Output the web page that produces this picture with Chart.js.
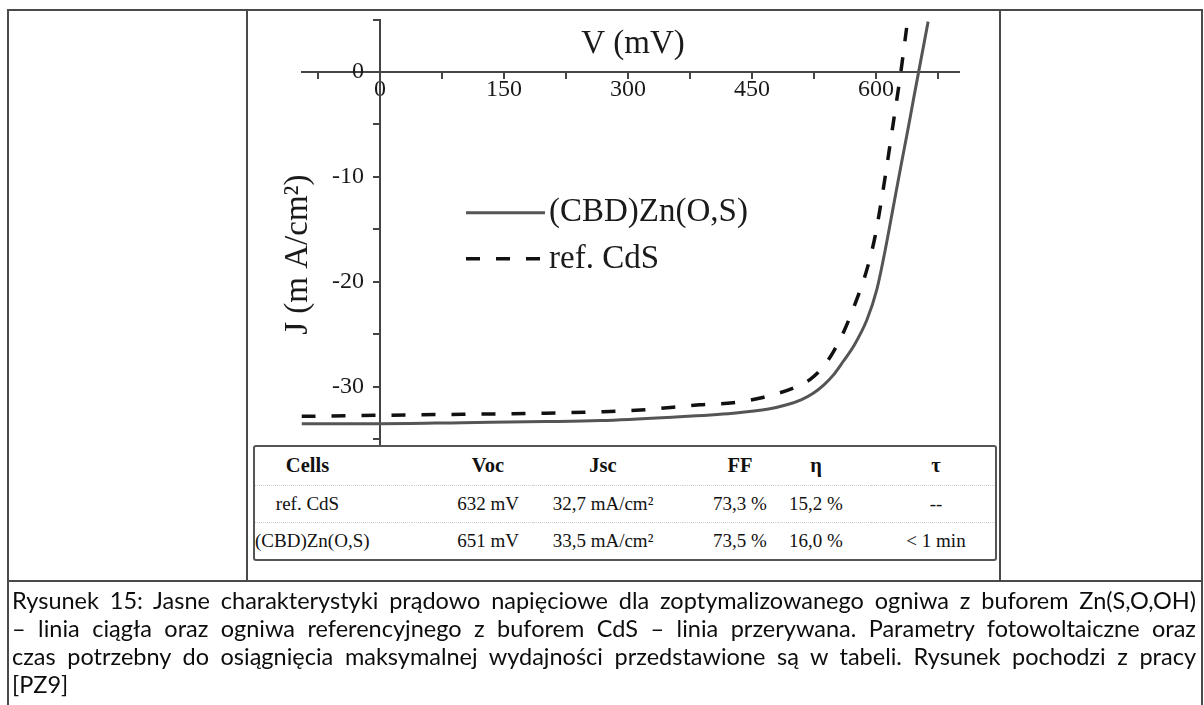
<!DOCTYPE html>
<html>
<head>
<meta charset="utf-8">
<script src="https://cdn.jsdelivr.net/npm/chart.js@4.4.1/dist/chart.umd.min.js"></script>
<style>
html, body { margin: 0; padding: 0; background: #fff; }
body { width: 1204px; height: 705px; position: relative; overflow: hidden; }
#wrap { position: absolute; left: 0; top: 0; width: 1204px; height: 705px; }
.rule { position: absolute; background: #4a4a4a; }
#results {
  position: absolute; left: 253px; top: 445px; width: 744px; height: 116px;
  border: 2px solid #555; border-radius: 3px; background: #fff;
  border-collapse: separate; border-spacing: 0; table-layout: fixed;
  font-family: "Liberation Serif", serif; font-size: 19px; color: #111;
}
#results td, #results th { text-align: center; padding: 0; white-space: nowrap; border-bottom: 1px dotted #cfcfcf; }
#results tr:last-child td { border-bottom: none; }
#results th { font-weight: bold; font-size: 20.5px; }
#caption {
  position: absolute; left: 12px; top: 586px; width: 1184px;
  font-family: Lato, "Noto Sans", sans-serif; font-size: 23.5px; line-height: 28px; color: #0d0d0d;
}
#caption div { white-space: nowrap; text-align: justify; text-align-last: justify; transform-origin: 0 50%; }
#caption div.last { text-align-last: left; }
</style>
</head>
<body>
<div id="wrap"><canvas id="iv-chart" width="1204" height="705"></canvas></div>

<div class="rule" style="left:7px;top:9px;width:1196px;height:2px"></div>
<div class="rule" style="left:7px;top:9px;width:2px;height:700px"></div>
<div class="rule" style="left:1201px;top:9px;width:2px;height:700px"></div>
<div class="rule" style="left:246px;top:9px;width:2px;height:572px"></div>
<div class="rule" style="left:999px;top:9px;width:2px;height:572px"></div>
<div class="rule" style="left:7px;top:580px;width:1196px;height:2px"></div>

<table id="results"></table>
<div id="caption"></div>

<script>
// J-V curves (V in mV, J in mA/cm2)
const voltZn = [-95, 0, 100, 200, 266, 347, 427, 470, 492, 510, 524, 537, 548, 560, 573, 589, 601, 611, 621, 630, 639, 646, 652, 658, 663];
const currZn = [-33.5, -33.5, -33.4, -33.3, -33.2, -32.9, -32.5, -32.1, -31.7, -31.2, -30.6, -29.8, -28.9, -27.6, -26.1, -23.6, -20.7, -17.0, -12.8, -9.0, -5.3, -2.3, 0.2, 2.7, 4.8];

const voltCdS = [-95, 0, 100, 200, 270, 315, 387, 427, 463, 500, 520, 536, 548, 560, 576, 589, 599, 607, 613, 620, 625, 630, 637];
const currCdS = [-32.8, -32.7, -32.6, -32.5, -32.35, -32.2, -31.7, -31.5, -31.0, -30.1, -29.3, -28.1, -26.7, -24.9, -21.8, -18.8, -15.6, -12.0, -9.0, -5.3, -2.7, 0, 4.2];

const seriesNames = ["(CBD)Zn(O,S)", "ref. CdS"];

// table under the plot
const tableHead = ["Cells", "Voc", "Jsc", "FF", "η", "τ"];
const cellNames = ["ref. CdS", "(CBD)Zn(O,S)"];
const vocValues = ["632 mV", "651 mV"];
const jscValues = ["32,7 mA/cm²", "33,5 mA/cm²"];
const ffValues = ["73,3 %", "73,5 %"];
const etaValues = ["15,2 %", "16,0 %"];
const tauValues = ["--", "< 1 min"];

const captionLines = [
  "Rysunek 15: Jasne charakterystyki prądowo napięciowe dla zoptymalizowanego ogniwa z buforem Zn(S,O,OH)",
  "– linia ciągła oraz ogniwa referencyjnego z buforem  CdS – linia przerywana. Parametry fotowoltaiczne oraz",
  "czas potrzebny do osiągnięcia maksymalnej wydajności przedstawione są w tabeli. Rysunek pochodzi z pracy",
  "[PZ9]"
];

const serif = '"Liberation Serif", "Times New Roman", serif';

// Titles, y tick labels and legend, placed from the scales
const labelPlugin = {
  id: 'labelPlugin',
  afterDraw(chart) {
    const { ctx, scales: { x, y } } = chart;
    ctx.save();
    ctx.fillStyle = '#1a1a1a';

    // y tick labels sit left of the axis line
    ctx.font = '24px ' + serif;
    ctx.textAlign = 'right';
    ctx.textBaseline = 'middle';
    const axisX = x.getPixelForValue(0);
    y.ticks.forEach(t => {
      if (t.value % 10 === 0) ctx.fillText(String(t.value), axisX - 16, y.getPixelForValue(t.value));
    });

    ctx.font = '33px ' + serif;
    ctx.textAlign = 'center';
    ctx.textBaseline = 'alphabetic';
    ctx.fillText('V (mV)', x.getPixelForValue(306), y.getPixelForValue(1.8));

    ctx.save();
    ctx.translate(x.getPixelForValue(-99), y.getPixelForValue(-17.4));
    ctx.rotate(-Math.PI / 2);
    ctx.textBaseline = 'middle';
    ctx.fillText('J (m A/cm²)', 0, 0);
    ctx.restore();

    const rowY = [-13.4, -17.8];
    chart.data.datasets.forEach((ds, i) => {
      const ly = y.getPixelForValue(rowY[i]);
      ctx.save();
      ctx.strokeStyle = ds.borderColor;
      ctx.lineWidth = ds.borderWidth;
      ctx.setLineDash(ds.borderDash || []);
      ctx.beginPath();
      ctx.moveTo(466, ly);
      ctx.lineTo(545, ly);
      ctx.stroke();
      ctx.restore();
      ctx.textAlign = 'left';
      ctx.textBaseline = 'middle';
      ctx.fillText(ds.label, 549, ly);
    });
    ctx.restore();
  }
};

const toPoints = (xs, ys) => xs.map((v, i) => ({ x: v, y: ys[i] }));

const ivChart = new Chart(document.getElementById('iv-chart'), {
  type: 'scatter',
  data: {
    datasets: [{
      label: seriesNames[0],
      data: toPoints(voltZn, currZn),
      showLine: true,
      borderColor: '#555',
      borderWidth: 3,
      pointRadius: 0,
      cubicInterpolationMode: 'monotone'
    }, {
      label: seriesNames[1],
      data: toPoints(voltCdS, currCdS),
      showLine: true,
      borderColor: '#111',
      borderWidth: 3.5,
      borderDash: [14, 16],
      pointRadius: 0,
      cubicInterpolationMode: 'monotone'
    }]
  },
  options: {
    responsive: false,
    animation: false,
    devicePixelRatio: 1,
    layout: { padding: { left: 301.5, right: 245.3, top: 19.5, bottom: 258.2 } },
    plugins: { legend: { display: false }, tooltip: { enabled: false } },
    scales: {
      x: {
        type: 'linear',
        min: -95,
        max: 700,
        position: { y: 0 },
        afterFit: s => { s.height = 0; },
        grid: { drawOnChartArea: false, drawTicks: true, tickLength: 6, color: '#444', lineWidth: 2 },
        border: { display: true, color: '#444', width: 2 },
        ticks: {
          stepSize: 75,
          includeBounds: false,
          autoSkip: false,
          maxRotation: 0,
          padding: -3,
          color: '#1a1a1a',
          font: { family: serif, size: 24 },
          callback: v => (v % 150 === 0 ? String(v) : '')
        }
      },
      y: {
        type: 'linear',
        min: -35.7,
        max: 5,
        position: { x: 0 },
        afterFit: s => { s.width = 0; },
        grid: { drawOnChartArea: false, drawTicks: true, tickLength: 6, color: '#444', lineWidth: 2 },
        border: { display: true, color: '#444', width: 2 },
        ticks: { stepSize: 5, includeBounds: false, autoSkip: false, display: false }
      }
    }
  },
  plugins: [labelPlugin]
});

// Results table: column widths and side padding put each column's text where the figure has it
const colWidths = [157, 121, 150, 95, 93, 124];
const colPad = [[0, 52], [31, 0], [0, 10], [19, 0], [0, 17], [6, 0]];
const table = document.getElementById('results');
const columns = [cellNames, vocValues, jscValues, ffValues, etaValues, tauValues];
const cellStyle = c => `style="padding-left:${colPad[c][0]}px;padding-right:${colPad[c][1]}px"`;
table.innerHTML =
  '<colgroup>' + colWidths.map(w => `<col style="width:${w}px">`).join('') + '</colgroup>' +
  '<tr>' + tableHead.map((h, c) => `<th ${cellStyle(c)}>${h}</th>`).join('') + '</tr>' +
  cellNames.map((_, r) => '<tr>' + columns.map((col, c) =>
    `<td ${cellStyle(c)}>${col[r].replace('<', '&lt;')}</td>`).join('') + '</tr>').join('');

// Caption, one justified line per div; a line that is too long is squeezed to the box width
const caption = document.getElementById('caption');
caption.innerHTML = captionLines.map((t, i) =>
  `<div${i === captionLines.length - 1 ? ' class="last"' : ''}>${t}</div>`).join('');
[...caption.children].forEach(line => {
  if (line.scrollWidth > line.clientWidth + 1) {
    line.style.transform = `scaleX(${line.clientWidth / line.scrollWidth})`;
  }
});
</script>
</body>
</html>
